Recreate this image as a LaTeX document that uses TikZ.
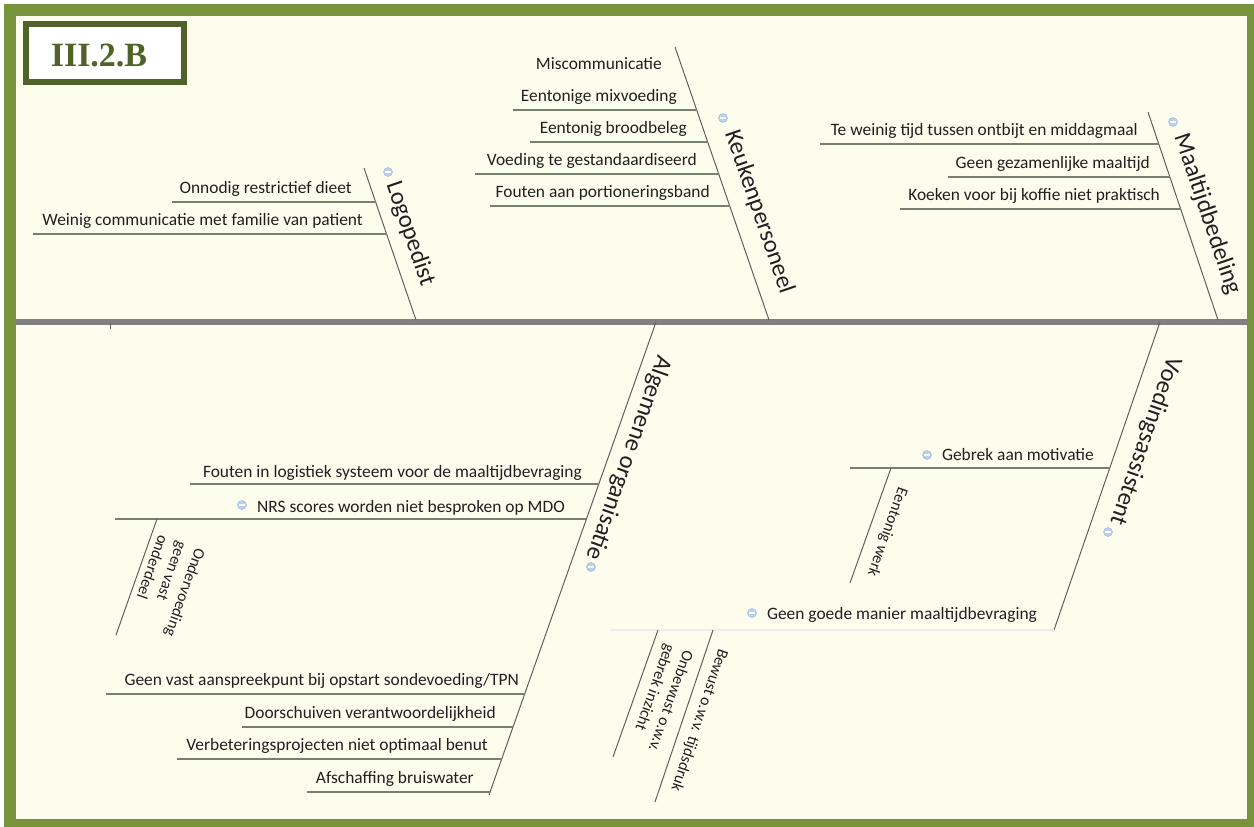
\documentclass[tikz,border=0pt]{standalone}
\usepackage{fontspec}
\setmainfont{Carlito}
\newfontfamily\titlefont{Liberation Serif}
\usetikzlibrary{calc}

\definecolor{framegreen}{RGB}{119,147,60}
\definecolor{titlegreen}{RGB}{79,98,40}
\definecolor{paper}{RGB}{253,253,238}
\definecolor{spinegray}{RGB}{128,128,128}
\definecolor{bonegray}{RGB}{95,95,95}
\definecolor{ulinecol}{RGB}{118,128,108}
\definecolor{txt}{RGB}{32,32,32}
\definecolor{iconfill}{RGB}{186,207,238}
\definecolor{iconedge}{RGB}{150,180,222}

\tikzset{
  spine/.style={draw=spinegray, line width=6pt},
  bone/.style={draw=bonegray, line width=1pt},
  uline/.style={draw=ulinecol, line width=1.2pt},
  faintline/.style={draw=black!7, line width=1.2pt},
  item/.style={anchor=base east, inner sep=0pt, text=txt, font=\fontsize{17.4}{20}\selectfont},
  lbl/.style={inner sep=0pt, text=txt, font=\fontsize{24.5}{29}\selectfont},
  sublbl/.style={inner sep=0pt, text=txt, align=left, font=\fontsize{16}{19.5}\selectfont},
  dot/.style={circle, minimum size=9pt, inner sep=0pt, fill=iconfill, draw=iconedge, line width=0.4pt,
    path picture={\draw[white, line width=1.2pt]
      ([xshift=-2.6pt]path picture bounding box.center) -- ([xshift=2.6pt]path picture bounding box.center);}},
}

\begin{document}
\begin{tikzpicture}[x=1pt, y=-1pt]
\useasboundingbox (0,0) rectangle (1254,827);

% page frame
\fill[white] (0,0) rectangle (1254,827);
\fill[framegreen] (4,4) rectangle (1254,827);
\fill[paper] (16,16) rectangle (1247,819);

% title box
\node[draw=titlegreen, line width=6pt, fill=white, minimum width=158pt, minimum height=58pt, inner sep=0pt]
  (titlebox) at (105,53) {};
\node[inner sep=0pt, text=titlegreen, font=\titlefont\bfseries\fontsize{34}{40}\selectfont]
  (title) at (99,55) {III.2.B};

% spine
\coordinate (spL) at (16,321.5);
\coordinate (spR) at (1247,321.5);
\draw[spine] (spL) -- (spR);
\coordinate (tickA) at (110,323);
\coordinate (tickB) at (110,329);
\draw[bonegray, line width=0.8pt] (tickA) -- (tickB);

% ---------- Logopedist ----------
\coordinate (lgT) at (364,168);
\coordinate (lgB) at (416,320);
\draw[bone] (lgT) -- (lgB);
\node[lbl, rotate=-71.1] (lgL) at (410,234) {Logopedist};
\node[dot] (lgI) at (388,172) {};
\node[item] (lg1) at (352,193) {Onnodig restrictief dieet};
\coordinate (lg1e) at (375.6,202);
\coordinate (lg1s) at (172,202);
\draw[uline] (lg1e) -- (lg1s);
\node[item] (lg2) at (363,225) {Weinig communicatie met familie van patient};
\coordinate (lg2e) at (386.6,234);
\coordinate (lg2s) at (33,234);
\draw[uline] (lg2e) -- (lg2s);

% ---------- Keukenpersoneel ----------
\coordinate (kpT) at (675,47);
\coordinate (kpB) at (769,320);
\draw[bone] (kpT) -- (kpB);
\node[lbl, rotate=-71.0] (kpL) at (759,212) {Keukenpersoneel};
\node[dot] (kpI) at (723,118) {};
\node[item] (kp0) at (662,69) {Miscommunicatie};
\node[item] (kp1) at (677,101) {Eentonige mixvoeding};
\coordinate (kp1e) at (696.7,110);
\coordinate (kp1s) at (513,110);
\draw[uline] (kp1e) -- (kp1s);
\node[item] (kp2) at (687,133) {Eentonig broodbeleg};
\coordinate (kp2e) at (707.7,142);
\coordinate (kp2s) at (530,142);
\draw[uline] (kp2e) -- (kp2s);
\node[item] (kp3) at (697,165) {Voeding te gestandaardiseerd};
\coordinate (kp3e) at (718.7,174);
\coordinate (kp3s) at (475,174);
\draw[uline] (kp3e) -- (kp3s);
\node[item] (kp4) at (710,197) {Fouten aan portioneringsband};
\coordinate (kp4e) at (729.7,206);
\coordinate (kp4s) at (490,206);
\draw[uline] (kp4e) -- (kp4s);

% ---------- Maaltijdbedeling ----------
\coordinate (mbT) at (1148,112);
\coordinate (mbB) at (1218,320);
\draw[bone] (mbT) -- (mbB);
\node[lbl, rotate=-71.4] (mbL) at (1207,214) {Maaltijdbedeling};
\node[dot] (mbI) at (1173,122) {};
\node[item] (mb1) at (1138,135) {Te weinig tijd tussen ontbijt en middagmaal};
\coordinate (mb1e) at (1158.8,144);
\coordinate (mb1s) at (820,144);
\draw[uline] (mb1e) -- (mb1s);
\node[item] (mb2) at (1150,168) {Geen gezamenlijke maaltijd};
\coordinate (mb2e) at (1169.9,177);
\coordinate (mb2s) at (948,177);
\draw[uline] (mb2e) -- (mb2s);
\node[item] (mb3) at (1160,200) {Koeken voor bij koffie niet praktisch};
\coordinate (mb3e) at (1180.6,209);
\coordinate (mb3s) at (900,209);
\draw[uline] (mb3e) -- (mb3s);

% ---------- Algemene organisatie ----------
\coordinate (aoT) at (656,322);
\coordinate (aoB) at (489,795);
\draw[bone] (aoT) -- (aoB);
\node[lbl, rotate=-109.45] (aoL) at (628,458) {Algemene organisatie};
\node[dot] (aoI) at (591,567) {};
\node[item] (ao1) at (582,477) {Fouten in logistiek systeem voor de maaltijdbevraging};
\coordinate (ao1e) at (598.8,484);
\coordinate (ao1s) at (190,484);
\draw[uline] (ao1e) -- (ao1s);
\node[item] (ao2) at (565,512) {NRS scores worden niet besproken op MDO};
\node[dot] (ao2I) at (242,505) {};
\coordinate (ao2e) at (586.4,519);
\coordinate (ao2s) at (115,519);
\draw[uline] (ao2e) -- (ao2s);
\coordinate (ao2aT) at (157,519);
\coordinate (ao2aB) at (116,635);
\draw[bone] (ao2aT) -- (ao2aB);
\node[sublbl, rotate=-109.5] (ao2aL) at (167,586) {Ondervoeding\\geen vast\\onderdeel};
\node[item] (ao3) at (519,685) {Geen vast aanspreekpunt bij opstart sondevoeding/TPN};
\coordinate (ao3e) at (524.6,694);
\coordinate (ao3s) at (106,694);
\draw[uline] (ao3e) -- (ao3s);
\node[item] (ao4) at (496,718) {Doorschuiven verantwoordelijkheid};
\coordinate (ao4e) at (513,727);
\coordinate (ao4s) at (242,727);
\draw[uline] (ao4e) -- (ao4s);
\node[item] (ao5) at (488,750) {Verbeteringsprojecten niet optimaal benut};
\coordinate (ao5e) at (501.7,759);
\coordinate (ao5s) at (177,759);
\draw[uline] (ao5e) -- (ao5s);
\node[item] (ao6) at (474,783) {Afschaffing bruiswater};
\coordinate (ao6e) at (490,792);
\coordinate (ao6s) at (307,792);
\draw[uline] (ao6e) -- (ao6s);

% ---------- Voedingsassistent ----------
\coordinate (vaT) at (1160,322);
\coordinate (vaB) at (1054,630);
\draw[bone] (vaT) -- (vaB);
\node[lbl, rotate=-109.0] (vaL) at (1145,441) {Voedingsassistent};
\node[dot] (vaI) at (1108,532) {};
\node[item] (va1) at (1094,460) {Gebrek aan motivatie};
\node[dot] (va1I) at (927,455) {};
\coordinate (va1e) at (1109.7,468);
\coordinate (va1s) at (850,468);
\draw[uline] (va1e) -- (va1s);
\coordinate (va1aT) at (891,468);
\coordinate (va1aB) at (850,583);
\draw[bone] (va1aT) -- (va1aB);
\node[sublbl, rotate=-109.5] (va1aL) at (887,532) {Eentonig werk};
\node[item] (va2) at (1037,619) {Geen goede manier maaltijdbevraging};
\node[dot] (va2I) at (752,613) {};
\coordinate (va2s) at (610,630);
\draw[faintline] (vaB) -- (va2s);
\coordinate (va2aT) at (658,630);
\coordinate (va2aB) at (613,757);
\draw[bone] (va2aT) -- (va2aB);
\node[sublbl, rotate=-109.5] (va2aL) at (661,698) {Onbewust o.w.v.\\gebrek inzicht};
\coordinate (va2bT) at (713,630);
\coordinate (va2bB) at (655,802);
\draw[bone] (va2bT) -- (va2bB);
\node[sublbl, rotate=-108.6] (va2bL) at (699,720) {Bewust o.w.v. tijdsdruk};

\end{tikzpicture}
\end{document}
